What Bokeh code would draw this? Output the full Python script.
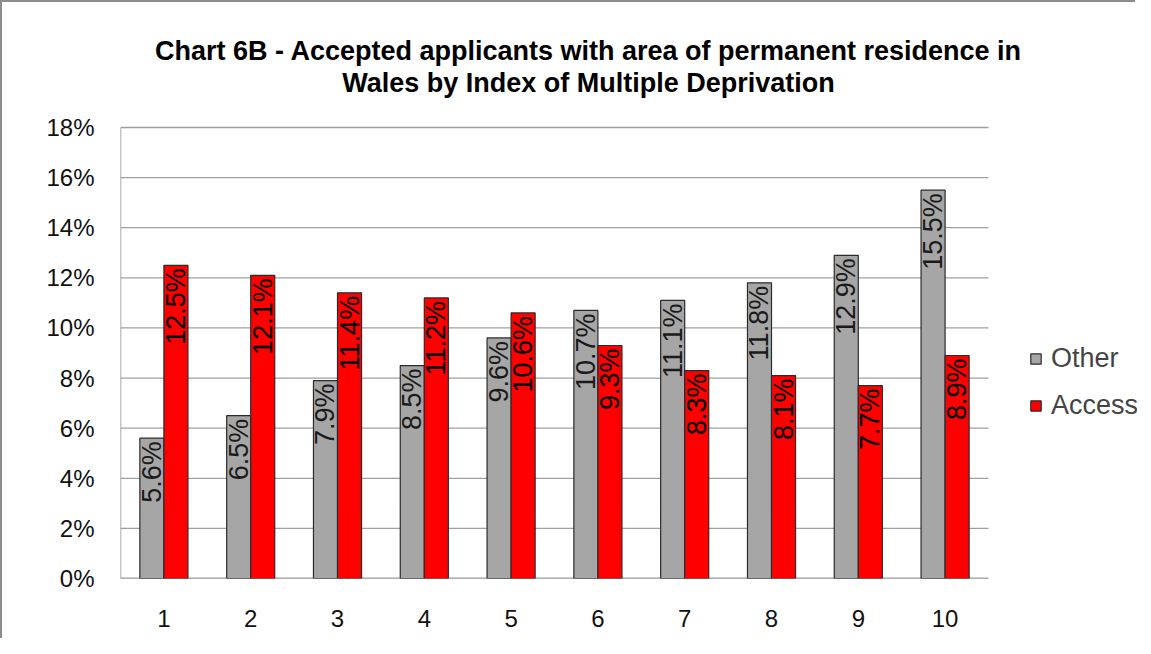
from bokeh.plotting import figure
from bokeh.models import (ColumnDataSource, Range1d, Legend, LegendItem, Label,
                          NumeralTickFormatter, FixedTicker)
from bokeh.core.properties import value
from bokeh.transform import dodge
from bokeh.embed import file_html
from bokeh.resources import INLINE
import math

# ---- data ----
categories = ["1", "2", "3", "4", "5", "6", "7", "8", "9", "10"]
other = [5.6, 6.5, 7.9, 8.5, 9.6, 10.7, 11.1, 11.8, 12.9, 15.5]
access = [12.5, 12.1, 11.4, 11.2, 10.6, 9.3, 8.3, 8.1, 7.7, 8.9]
y_ticks = [0, 0.02, 0.04, 0.06, 0.08, 0.10, 0.12, 0.14, 0.16, 0.18]
title_line1 = "Chart 6B - Accepted applicants with area of permanent residence in"
title_line2 = "Wales by Index of Multiple Deprivation"
series_names = ["Other", "Access"]

FONT = "Liberation Sans"
GREY = "#a6a6a6"
RED = "#ff0000"
EDGE = "#2b2b2b"
AXIS = "#8c8c8c"

# ---- layout geometry (page pixels) ----
OFFX, OFFY = 3, 2                 # where the canvas lands on the page
W, H = 1135, 638
FRAME_L, FRAME_B, VALUE_T = 121, 578, 127
ML = FRAME_L - OFFX
MB = OFFY + H - FRAME_B
FRAME_W, FRAME_H = W - ML, H - MB
PLOT_H = FRAME_B - VALUE_T        # pixel height of the 0..18% value area
UNIT = 86.8                       # pixels per category slot
n = len(categories)
y_max = y_ticks[-1]
x0, x1 = 0.5, n + 0.5
x_end = x0 + FRAME_W / UNIT
y_end = y_max * FRAME_H / PLOT_H

xs = list(range(1, n + 1))
src = ColumnDataSource(dict(
    x=xs,
    other=[v / 100 for v in other],
    access=[v / 100 for v in access],
    other_lbl=["%.1f%%" % v for v in other],
    access_lbl=["%.1f%%" % v for v in access],
))

p = figure(x_range=Range1d(x0, x_end), y_range=Range1d(0, y_end),
           width=W, height=H, output_backend="svg", toolbar_location=None,
           min_border_left=ML, min_border_right=0, min_border_top=0,
           min_border_bottom=MB,
           styles={"border-top": "2px solid #8c8c8c", "border-left": "2px solid #8c8c8c"})
p.title = None
p.outline_line_color = None
p.xgrid.grid_line_color = None
p.ygrid.grid_line_color = None

# gridlines and axis lines limited to the value area
p.segment(x0=[x0] * len(y_ticks), x1=[x1] * len(y_ticks), y0=y_ticks, y1=y_ticks,
          line_color="#a0a0a0", line_width=1.3)
p.segment(x0=[x0], x1=[x0], y0=[0], y1=[y_max], line_color=AXIS, line_width=1.5)
p.segment(x0=[x0], x1=[x1], y0=[0], y1=[0], line_color=AXIS, line_width=1.5)

bw = 0.277
r_other = p.vbar(x=dodge("x", -bw / 2), top="other", width=bw, source=src,
                 fill_color=GREY, line_color=EDGE, line_width=1.2)
r_access = p.vbar(x=dodge("x", bw / 2), top="access", width=bw, source=src,
                  fill_color=RED, line_color=EDGE, line_width=1.2)

p.text(x=dodge("x", -bw / 2), y="other", text="other_lbl", source=src,
       angle=math.pi / 2, text_align="right", text_baseline="middle", y_offset=3,
       text_font=value(FONT), text_font_size="27px", text_color="#1a1a1a")
p.text(x=dodge("x", bw / 2), y="access", text="access_lbl", source=src,
       angle=math.pi / 2, text_align="right", text_baseline="middle", y_offset=3,
       text_font=value(FONT), text_font_size="27px", text_color="#000000")

# axes
p.yaxis.ticker = FixedTicker(ticks=y_ticks)
p.yaxis.formatter = NumeralTickFormatter(format="0%")
p.xaxis.ticker = FixedTicker(ticks=xs)
p.xaxis.major_label_overrides = {x: c for x, c in zip(xs, categories)}
for ax in (p.xaxis[0], p.yaxis[0]):
    ax.major_tick_line_color = None
    ax.minor_tick_line_color = None
    ax.axis_line_color = None
    ax.major_label_text_font = FONT
    ax.major_label_text_font_size = "24px"
    ax.major_label_text_color = "#111111"
p.yaxis.major_label_standoff = 20
p.xaxis.major_label_standoff = 25

# title (two centred lines) placed in data space above the value area
def px_to_x(px):
    return x0 + (px - FRAME_L) / UNIT

def py_to_y(py):
    return (FRAME_B - py) / PLOT_H * y_max

for txt, py in ((title_line1, 50), (title_line2, 82)):
    p.add_layout(Label(x=px_to_x(589), y=py_to_y(py), text=txt, text_align="center",
                       text_baseline="middle", text_font=FONT, text_font_size="27px",
                       text_font_style="bold", text_color="#000000"))

legend = Legend(items=[LegendItem(label=series_names[0], renderers=[r_other]),
                       LegendItem(label=series_names[1], renderers=[r_access])],
                location=(909, 157), orientation="vertical",
                label_text_font=FONT, label_text_font_size="27px",
                glyph_width=13, glyph_height=13, label_height=24, spacing=16,
                label_standoff=9, padding=0, margin=0,
                border_line_color=None, background_fill_alpha=0)
p.add_layout(legend, "center")

open("out.html", "w").write(file_html(p, INLINE))
